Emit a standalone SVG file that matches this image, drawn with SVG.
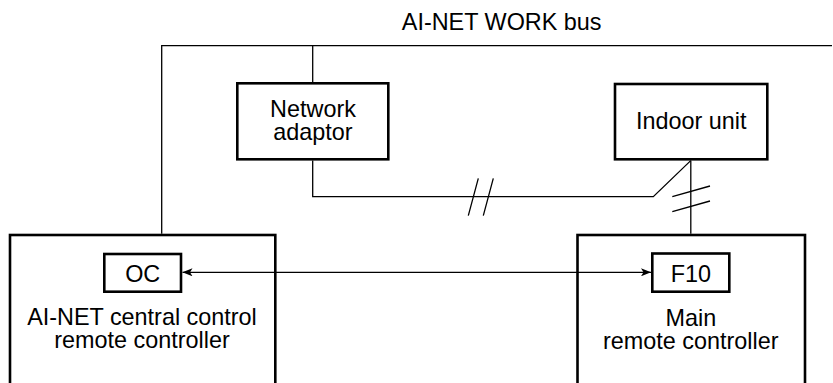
<svg xmlns="http://www.w3.org/2000/svg" width="833" height="383" viewBox="0 0 833 383">
<style>
text{font-family:"Liberation Sans",Arial,sans-serif;font-size:23.4px;fill:#000;text-anchor:middle}
.box{fill:#fff;stroke:#000;stroke-width:2.6}
.ln{fill:none;stroke:#000;stroke-width:1.3}
</style>
<defs>
<marker id="ah" viewBox="0 0 10 8" refX="10" refY="4" markerWidth="10" markerHeight="8" markerUnits="userSpaceOnUse" orient="auto-start-reverse">
<path d="M0,0 L10,4 L0,8 L2.5,4 Z" fill="#000"/>
</marker>
</defs>
<rect width="833" height="383" fill="#fff"/>
<text x="501.7" y="30">AI-NET WORK bus</text>
<g id="network-adaptor">
<rect class="box" x="237.3" y="83.3" width="151" height="76"/>
<text x="313" y="117.3">Network</text>
<text x="313" y="140">adaptor</text>
</g>
<g id="indoor-unit">
<rect class="box" x="615" y="84" width="152.3" height="75.3"/>
<text x="691.2" y="129">Indoor unit</text>
</g>
<g id="central-controller">
<rect class="box" x="10" y="235" width="265.3" height="160"/>
<text x="142" y="325">AI-NET central control</text>
<text x="142" y="348">remote controller</text>
</g>
<g id="oc">
<rect class="box" x="104.3" y="254" width="76.7" height="37.7"/>
<text x="142.7" y="282">OC</text>
</g>
<g id="main-remote">
<rect class="box" x="577.5" y="235" width="227.5" height="160"/>
<text x="690.8" y="326">Main</text>
<text x="690.8" y="348.5">remote controller</text>
</g>
<g id="f10">
<rect class="box" x="652.3" y="253.5" width="77" height="38.2"/>
<text x="690.8" y="282">F10</text>
</g>
<g id="connectors">
<path class="ln" d="M161.7,233.7 V45.7 H832"/>
<path class="ln" d="M312.7,45.7 V82"/>
<path class="ln" d="M312.7,160.6 V196.7 H653.3 L690.7,160.6"/>
<path class="ln" d="M690.8,160.6 V233.7"/>
<path class="ln" d="M468.3,215.7 L478.3,178.3 M483.3,215.7 L493.3,178.3"/>
<path class="ln" d="M672.3,196.7 L710,186 M672.3,211.7 L710,201"/>
<line class="ln" x1="182.5" y1="272.3" x2="651" y2="272.3" marker-start="url(#ah)" marker-end="url(#ah)"/>
</g>
</svg>
